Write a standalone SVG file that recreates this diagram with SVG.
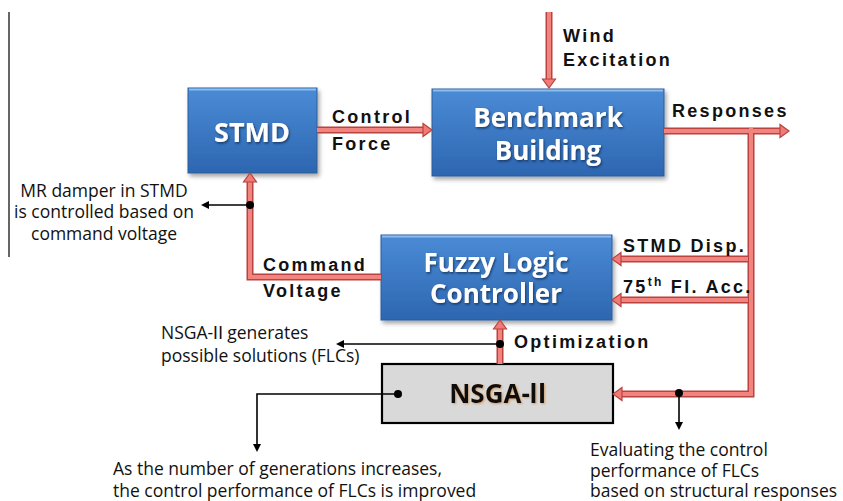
<svg xmlns="http://www.w3.org/2000/svg" xmlns:xlink="http://www.w3.org/1999/xlink" width="843" height="501" viewBox="0 0 843 501">
<defs>
<linearGradient id="blue" x1="0" y1="0" x2="0" y2="1">
<stop offset="0" stop-color="#4b8bd6"/>
<stop offset="1" stop-color="#2d66b0"/>
</linearGradient>
<filter id="sh" x="-10%" y="-10%" width="125%" height="130%">
<feDropShadow dx="2" dy="3" stdDeviation="2" flood-color="#000" flood-opacity="0.35"/>
</filter>
<filter id="tsh" x="-10%" y="-20%" width="120%" height="150%">
<feDropShadow dx="1" dy="1.5" stdDeviation="1" flood-color="#0b2a55" flood-opacity="0.8"/>
</filter>
<filter id="nsh" x="-10%" y="-20%" width="120%" height="150%">
<feDropShadow dx="1" dy="1" stdDeviation="1" flood-color="#c8741a" flood-opacity="0.6"/>
</filter>
<path id="rh" d="M0,0 L-9,-6.5 L-9,6.5 Z" fill="#f27a76" stroke="#b8433f" stroke-width="1.2" stroke-linejoin="miter"/>
<path id="bh" d="M0,0 L-8,-4 L-8,4 Z" fill="#000"/>
</defs>
<style>
.box{fill:url(#blue);stroke:#2a5c9e;stroke-width:1;filter:url(#sh)}
.bt{font-family:"Open Sans","Noto Sans",sans-serif;font-weight:bold;fill:#fff;text-anchor:middle;filter:url(#tsh)}
.lbl{font-family:"Liberation Sans",Arial,sans-serif;font-weight:bold;font-size:18px;letter-spacing:2.3px;fill:#111}
.ann{font-family:"Open Sans","Noto Sans","Noto Sans CJK KR",sans-serif;font-size:17.5px;fill:#111}
.rn{font-family:"Noto Sans CJK KR","Noto Sans CJK SC",sans-serif}
.rb{fill:none;stroke:#b8433f;stroke-width:7;stroke-linejoin:miter}
.rf{fill:none;stroke:#f28480;stroke-width:4;stroke-linejoin:miter}
.bl{fill:none;stroke:#000;stroke-width:1.6}
</style>

<line x1="9" y1="12" x2="9" y2="257" stroke="#333" stroke-width="1.5"/>

<g id="stmd">
<rect class="box" x="188" y="88" width="129" height="85"/>
<line x1="189" y1="89.5" x2="316" y2="89.5" stroke="#8cbcf0" stroke-width="2"/>
<text class="bt" x="252" y="142" font-size="27">STMD</text>
</g>

<g id="building">
<rect class="box" x="432" y="89" width="232" height="87"/>
<line x1="433" y1="90.5" x2="663" y2="90.5" stroke="#8cbcf0" stroke-width="2"/>
<text class="bt" x="548" y="127" font-size="26">Benchmark</text>
<text class="bt" x="548" y="160" font-size="26">Building</text>
</g>

<g id="flc">
<rect class="box" x="381" y="235" width="231" height="85"/>
<line x1="382" y1="236.5" x2="611" y2="236.5" stroke="#8cbcf0" stroke-width="2"/>
<text class="bt" x="496" y="272" font-size="26">Fuzzy Logic</text>
<text class="bt" x="496" y="303" font-size="26">Controller</text>
</g>

<g id="nsga">
<rect x="382" y="364" width="231" height="59" fill="#d9d9d9" stroke="#000" stroke-width="2.2"/>
<text x="500" y="403" font-family="'Open Sans','Noto Sans','Noto Sans CJK KR',sans-serif" font-weight="bold" font-size="26" text-anchor="middle" fill="#111" filter="url(#nsh)">NSGA-<tspan class="rn" dx="-5">Ⅱ</tspan></text>
</g>

<g id="connectors">
<path class="rb" d="M317,130 H425"/>
<path class="rb" d="M549,12 V81"/>
<path class="rb" d="M664,131 H782"/>
<path class="rb" d="M751,131 V394 H620"/>
<path class="rb" d="M751,259 H619"/>
<path class="rb" d="M751,300 H619"/>
<path class="rb" d="M381,277 H250 V180"/>
<path class="rb" d="M500,364 V327"/>
<path class="rf" d="M317,130 H426"/>
<path class="rf" d="M549,12 V82"/>
<path class="rf" d="M664,131 H783"/>
<path class="rf" d="M751,128 V394 H619"/>
<path class="rf" d="M748,259 H618"/>
<path class="rf" d="M748,300 H618"/>
<path class="rf" d="M381,277 H250 V179"/>
<path class="rf" d="M500,364 V326"/>
<use xlink:href="#rh" href="#rh" transform="translate(432,130)"/>
<use xlink:href="#rh" href="#rh" transform="translate(549,88) rotate(90)"/>
<use xlink:href="#rh" href="#rh" transform="translate(789,131)"/>
<use xlink:href="#rh" href="#rh" transform="translate(613,394) rotate(180)"/>
<use xlink:href="#rh" href="#rh" transform="translate(612,259) rotate(180)"/>
<use xlink:href="#rh" href="#rh" transform="translate(612,300) rotate(180)"/>
<use xlink:href="#rh" href="#rh" transform="translate(250,173) rotate(-90)"/>
<use xlink:href="#rh" href="#rh" transform="translate(500,320) rotate(-90)"/>
<path class="bl" d="M250,205 H208"/>
<use xlink:href="#bh" href="#bh" transform="translate(201,205) rotate(180)"/>
<circle cx="250" cy="205" r="4" fill="#000"/>
<path class="bl" d="M500,344 H343"/>
<use xlink:href="#bh" href="#bh" transform="translate(336,344) rotate(180)"/>
<circle cx="500" cy="344" r="4" fill="#000"/>
<path class="bl" d="M398,394 H257 V444"/>
<use xlink:href="#bh" href="#bh" transform="translate(257,452) rotate(90)"/>
<circle cx="398" cy="394" r="4" fill="#000"/>
<path class="bl" d="M679,393 V423"/>
<use xlink:href="#bh" href="#bh" transform="translate(679,430) rotate(90)"/>
<circle cx="679" cy="393" r="4" fill="#000"/>
</g>

<g id="labels">
<text class="lbl" x="332" y="123">Control</text>
<text class="lbl" x="332" y="150">Force</text>
<text class="lbl" x="563" y="42">Wind</text>
<text class="lbl" x="563" y="66">Excitation</text>
<text class="lbl" x="672" y="117">Responses</text>
<text class="lbl" x="623" y="252">STMD Disp.</text>
<text class="lbl" x="623" y="293">75<tspan font-size="12" dy="-7">th</tspan><tspan dy="7"> Fl. Acc.</tspan></text>
<text class="lbl" x="263" y="271">Command</text>
<text class="lbl" x="263" y="297">Voltage</text>
<text class="lbl" x="514" y="348">Optimization</text>
</g>

<g id="annotations">
<text class="ann" text-anchor="middle" x="104" y="197">MR damper in STMD</text>
<text class="ann" text-anchor="middle" x="104" y="218">is controlled based on</text>
<text class="ann" text-anchor="middle" x="104" y="240">command voltage</text>
<text class="ann" x="161" y="339">NSGA-<tspan class="rn" dx="-4">Ⅱ</tspan><tspan dx="-4"> generates</tspan></text>
<text class="ann" x="161" y="362">possible solutions (FLCs)</text>
<text class="ann" x="113" y="475">As the number of generations increases,</text>
<text class="ann" x="113" y="497">the control performance of FLCs is improved</text>
<text class="ann" x="590" y="456">Evaluating the control</text>
<text class="ann" x="590" y="477">performance of FLCs</text>
<text class="ann" x="590" y="497">based on structural responses</text>
</g>
</svg>
